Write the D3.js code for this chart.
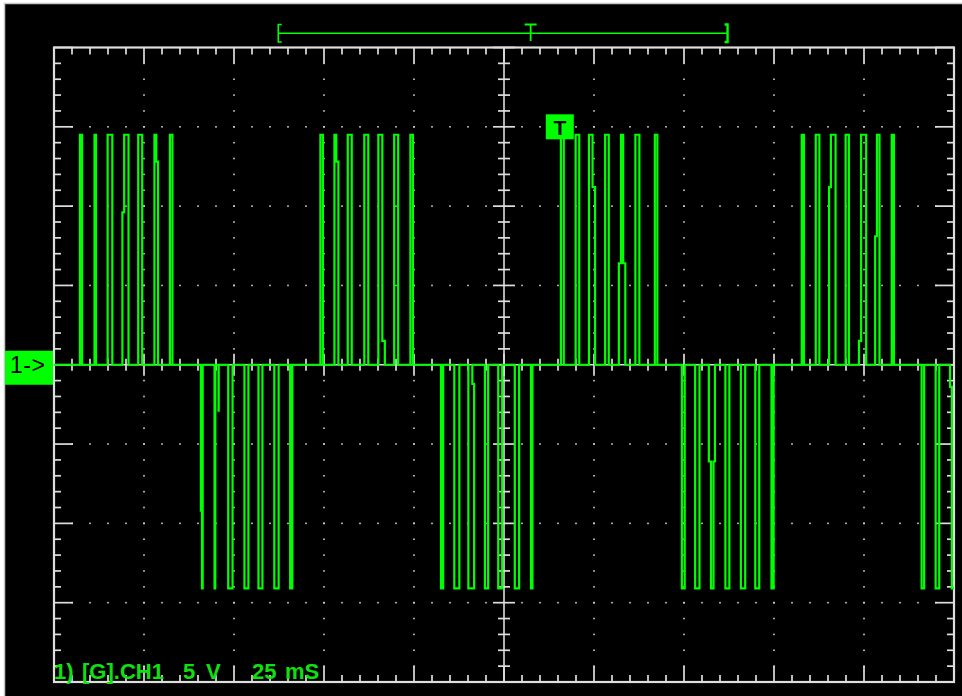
<!DOCTYPE html>
<html>
<head>
<meta charset="utf-8">
<script src="https://cdn.jsdelivr.net/npm/d3@7"></script>
<style>
  html, body { margin: 0; padding: 0; background: #fff; }
  svg { display: block; }
</style>
</head>
<body>
<svg id="scope" width="962" height="696"></svg>
<script>
// ---- screen settings: channel 1, 5 V/div, 25 ms/div ----
const timeDomain = [0, 250];     // ms, 10 divisions
const voltDomain = [-20, 20];    // V, 8 divisions
const timePerDiv = 25, timeMinor = 5;
const voltPerDiv = 5, voltMinor = 1;

const highLevel = 14.5;
const lowLevel = -14.1;

// Pulses of each burst: [leading edge, trailing edge, level (optional)] in ms.
// An edge given as {base, peak, at} leaves the baseline at `base`, steps
// sideways at `at` volts and reaches the pulse level at `peak`.
const burst1 = [[7.2, 7.8], [11.25, 11.65], [14.9, 16.2],
  [{base: 19.0, peak: 19.5, at: 9.6}, 20.7], [23.4, 24.5],
  [27.9, {peak: 28.4, base: 28.9, at: 12.8}], [32.2, 32.9]];
const burst2 = [[{base: 40.8, peak: 41.1, at: -9.2}, 41.3], [44.6, 44.8],
  [45.7, 45.75, -2.9], [48.4, 49.6], [52.9, 54.0], [56.8, 57.9],
  [61.2, 62.4], [65.6, 66.2]];
const burst3 = [[74.0, 74.7], [77.9, {peak: 78.4, base: 79.0, at: 12.8}],
  [81.6, 82.7], [86.2, 87.3], [90.1, {peak: 91.2, base: 91.9, at: 1.5}],
  [94.5, 95.6], [99.0, 99.7]];
const burst4 = [[107.5, 108.1], [111.2, 112.6],
  [115.1, {peak: 116.7, base: 116.2, at: -1.2}], [119.7, 120.6],
  [123.4, 124.5], [128.0, 129.2], [132.5, 132.9]];
const burst5 = [[140.8, 141.6], [144.9, 145.9],
  [148.6, {peak: 149.6, base: 150.3, at: 11.2}], [153.1, 154.1],
  [{base: 156.9, peak: 157.5, at: 6.4}, {peak: 158.1, base: 158.7, at: 6.4}],
  [161.5, 162.6], [166.9, 167.6]];
const burst6 = [[174.4, 175.2], [178.1, 179.3],
  [{base: 181.9, peak: 182.5, at: -6.1}, {peak: 183.2, base: 183.6, at: -6.1}],
  [186.5, 187.6], [190.8, 192.0], [194.8, 195.9], [199.3, 199.9]];
const burst7 = [[207.7, 208.3], [211.6, 212.6],
  [{base: 215.3, peak: 215.8, at: 11.2}, 217.1], [219.9, 220.8],
  [{base: 223.6, peak: 224.2, at: 1.5}, 225.6],
  [{base: 228.1, peak: 228.6, at: 8.1}, 229.3], [232.7, 233.3]];
const burst8 = [[241.0, 241.7], [244.9, 245.9],
  [{base: 248.9, peak: 249.4, at: -1.4}, 251]];

const burstLevels = [highLevel, lowLevel, highLevel, lowLevel,
                     highLevel, lowLevel, highLevel, lowLevel];
const bursts = [burst1, burst2, burst3, burst4, burst5, burst6, burst7, burst8];

// memory window bar and trigger point (ms)
const windowSpan = [62.3, 187.1];
const triggerTime = 132.4;
const triggerMark = {time: 140.5, volt: 15.0};

const channelLabel = "1->";
const triggerLabel = "T";
const statusParts = [["1)", 54], ["[G].CH1", 82], ["5", 183], ["V", 206], ["25", 252], ["mS", 285]];

// ---- drawing ----
const W = 962, H = 696;
const plot = {left: 54, right: 954, top: 47.5, bottom: 682};
const green = "#00ff00";
const frameColor = "#dedede";
const dotColor = "#d0d0d0";

const svg = d3.select("#scope");
const x = d3.scaleLinear().domain(timeDomain).range([plot.left, plot.right]);
const y = d3.scaleLinear().domain(voltDomain).range([plot.bottom, plot.top]);

// screen background
svg.append("rect").attr("x", 0).attr("y", 0).attr("width", W).attr("height", H).attr("fill", "#fff");
svg.append("rect").attr("x", 4).attr("y", 3).attr("width", W - 4).attr("height", H - 3).attr("fill", "#000");
svg.append("path").attr("d", `M4.5,${H}V3.5H${W}`).attr("fill", "none")
  .attr("stroke", "#c8c8c8").attr("stroke-width", 1.5);

const grid = svg.append("g");
const majorT = d3.range(timeDomain[0], timeDomain[1] + 0.001, timePerDiv);
const minorT = d3.range(timeDomain[0], timeDomain[1] + 0.001, timeMinor);
const majorV = d3.range(voltDomain[0], voltDomain[1] + 0.001, voltPerDiv);
const minorV = d3.range(voltDomain[0], voltDomain[1] + 0.001, voltMinor);
const isMajorT = t => Math.abs(t / timePerDiv - Math.round(t / timePerDiv)) < 1e-6;
const isMajorV = v => Math.abs(v / voltPerDiv - Math.round(v / voltPerDiv)) < 1e-6;
const midT = (timeDomain[0] + timeDomain[1]) / 2;

// dotted grid lines
const dots = [];
majorV.filter(v => v !== 0 && v > voltDomain[0] && v < voltDomain[1]).forEach(v => {
  minorT.filter(t => t > timeDomain[0] && t < timeDomain[1]).forEach(t => dots.push([t, v]));
});
majorT.filter(t => t !== midT && t > timeDomain[0] && t < timeDomain[1]).forEach(t => {
  minorV.filter(v => v > voltDomain[0] && v < voltDomain[1]).forEach(v => dots.push([t, v]));
});
grid.selectAll("rect.dot").data(dots).join("rect").attr("class", "dot")
  .attr("x", d => x(d[0]) - 0.8).attr("y", d => y(d[1]) - 0.8)
  .attr("width", 1.6).attr("height", 1.6).attr("fill", dotColor);

// centre cross lines
grid.append("line").attr("x1", x(midT)).attr("x2", x(midT)).attr("y1", plot.top).attr("y2", plot.bottom)
  .attr("stroke", frameColor).attr("stroke-width", 1.6);
grid.append("line").attr("x1", plot.left).attr("x2", plot.right).attr("y1", y(0)).attr("y2", y(0))
  .attr("stroke", frameColor).attr("stroke-width", 1.6);

const ticks = [];
minorT.forEach(t => {
  const big = isMajorT(t);
  ticks.push([x(t), plot.top, x(t), plot.top + (big ? 16 : 7)]);
  ticks.push([x(t), plot.bottom, x(t), plot.bottom - (big ? 16 : 7)]);
  ticks.push([x(t), y(0) - (big ? 11 : 6), x(t), y(0) + (big ? 11 : 6)]);
});
minorV.forEach(v => {
  const big = isMajorV(v);
  ticks.push([plot.left, y(v), plot.left + (big ? 19 : 7), y(v)]);
  ticks.push([plot.right, y(v), plot.right - (big ? 19 : 7), y(v)]);
  ticks.push([x(midT) - (big ? 11 : 6), y(v), x(midT) + (big ? 11 : 6), y(v)]);
});
grid.selectAll("line.tick").data(ticks).join("line").attr("class", "tick")
  .attr("x1", d => d[0]).attr("y1", d => d[1]).attr("x2", d => d[2]).attr("y2", d => d[3])
  .attr("stroke", frameColor).attr("stroke-width", 1.7);

grid.append("rect").attr("x", plot.left).attr("y", plot.top)
  .attr("width", plot.right - plot.left).attr("height", plot.bottom - plot.top)
  .attr("fill", "none").attr("stroke", frameColor).attr("stroke-width", 2.2);

// ---- trace ----
const pts = [[timeDomain[0], 0]];
bursts.forEach((burst, i) => {
  burst.forEach(p => {
    const level = p.length > 2 ? p[2] : burstLevels[i];
    const lead = p[0], trail = p[1];
    if (typeof lead === "number") { pts.push([lead, 0], [lead, level]); }
    else { pts.push([lead.base, 0], [lead.base, lead.at], [lead.peak, lead.at], [lead.peak, level]); }
    if (typeof trail === "number") { pts.push([trail, level], [trail, 0]); }
    else { pts.push([trail.peak, level], [trail.peak, trail.at], [trail.base, trail.at], [trail.base, 0]); }
  });
});
pts.push([timeDomain[1], 0]);

svg.append("clipPath").attr("id", "screen").append("rect")
  .attr("x", plot.left).attr("y", plot.top - 4)
  .attr("width", plot.right - plot.left).attr("height", plot.bottom - plot.top + 8);

const line = d3.line().x(d => x(d[0])).y(d => y(d[1]));
svg.append("path").datum(pts).attr("clip-path", "url(#screen)")
  .attr("d", line).attr("fill", "none").attr("stroke", green)
  .attr("stroke-width", 2.2).attr("stroke-linejoin", "miter");

// ---- memory window bar with trigger position ----
const barY = 33.3, barTop = 24.5, barBot = 42;
const wb = svg.append("g").attr("stroke", green).attr("fill", "none");
wb.append("line").attr("x1", x(windowSpan[0])).attr("x2", x(windowSpan[1])).attr("y1", barY).attr("y2", barY).attr("stroke-width", 1.6);
wb.append("path").attr("d", `M${x(windowSpan[0]) + 3.5},${barTop}H${x(windowSpan[0])}V${barBot}H${x(windowSpan[0]) + 3.5}`).attr("stroke-width", 1.6);
wb.append("path").attr("d", `M${x(windowSpan[1]) - 3},${barTop}H${x(windowSpan[1])}V${barBot}H${x(windowSpan[1]) - 3}`).attr("stroke-width", 2.4);
wb.append("path").attr("d", `M${x(triggerTime) - 6},${barTop}H${x(triggerTime) + 6}M${x(triggerTime)},${barTop}V${barBot - 1}`).attr("stroke-width", 1.8);

// ---- markers and status text ----
const tx = x(triggerMark.time), ty = y(triggerMark.volt);
svg.append("rect").attr("x", tx - 14).attr("y", ty - 12.5).attr("width", 28).attr("height", 25).attr("fill", green);
svg.append("text").attr("x", tx).attr("y", ty + 8).attr("text-anchor", "middle")
  .attr("font-family", "Liberation Sans, Arial, sans-serif").attr("font-weight", "bold")
  .attr("font-size", 21).attr("fill", "#000").text(triggerLabel);

svg.append("rect").attr("x", 5).attr("y", y(0) - 14).attr("width", 48).attr("height", 34).attr("fill", green);
svg.append("text").attr("x", 10).attr("y", y(0) + 8)
  .attr("font-family", "Liberation Sans, Arial, sans-serif")
  .attr("font-size", 23).attr("letter-spacing", 0.5).attr("fill", "#000").text(channelLabel);

const status = svg.append("text").attr("y", 678.5)
  .attr("font-family", "Liberation Sans, Arial, sans-serif").attr("font-weight", "bold")
  .attr("font-size", 22).attr("fill", "#10e010");
status.selectAll("tspan").data(statusParts).join("tspan")
  .attr("x", d => d[1]).text(d => d[0]);
</script>
</body>
</html>
